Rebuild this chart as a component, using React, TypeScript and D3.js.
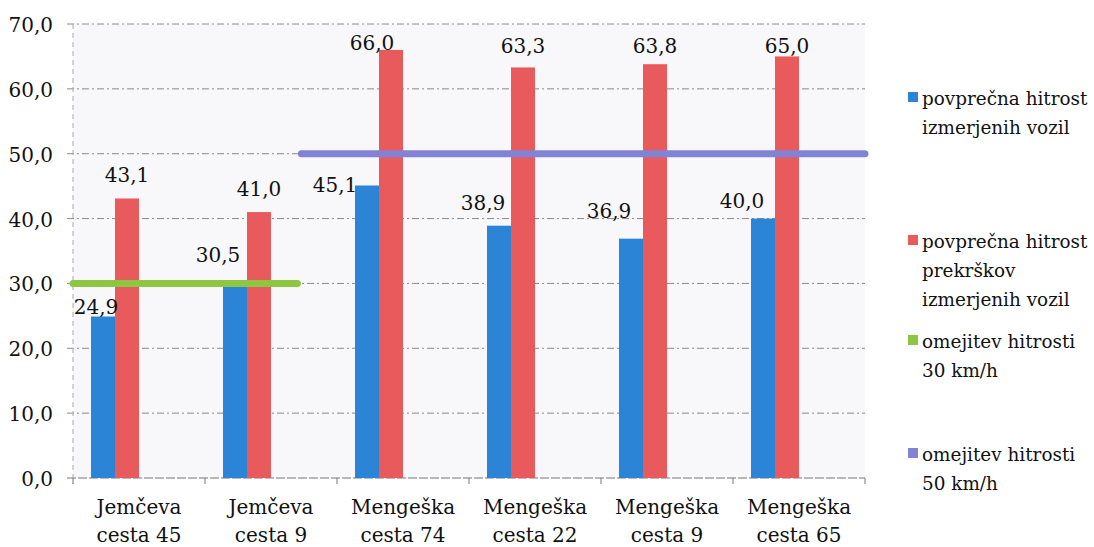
import React, { useRef, useEffect } from 'react';
import * as d3 from 'd3';

// data
const categories = [
  ['Jemčeva', 'cesta 45'],
  ['Jemčeva', 'cesta 9'],
  ['Mengeška', 'cesta 74'],
  ['Mengeška', 'cesta 22'],
  ['Mengeška', 'cesta 9'],
  ['Mengeška', 'cesta 65'],
];
const avgSpeed = [24.9, 30.5, 45.1, 38.9, 36.9, 40.0];
const avgOffenceSpeed = [43.1, 41.0, 66.0, 63.3, 63.8, 65.0];
// speed limits: value, span in category units [from, to]
const limit30 = { value: 30, from: 0, to: 1.7 };
const limit50 = { value: 50, from: 1.73, to: 6 };
const yTicks = [0, 10, 20, 30, 40, 50, 60, 70];
const legendItems = [
  { lines: ['povprečna hitrost', 'izmerjenih vozil'], color: '#2b84d6' },
  { lines: ['povprečna hitrost', 'prekrškov', 'izmerjenih vozil'], color: '#e85a5c' },
  { lines: ['omejitev hitrosti', '30 km/h'], color: '#8dc641' },
  { lines: ['omejitev hitrosti', '50 km/h'], color: '#8383d6' },
];

// hand-placed label offsets (dx, dy) as in the original
const blueNudge = [[-7, 13], [-17, -2], [-32, 23], [-16, 0], [-22, -5], [-21, 5]];
const redNudge = [[0, 0], [0, 0], [-19, 16], [0, 2], [0, 5], [0, 13]];

const W = 1094;
const H = 547;
const FONT = 'DejaVu Serif';

export default function App() {
  const svgRef = useRef<SVGSVGElement>(null);

  useEffect(() => {
    if (!svgRef.current) return;
    const svg = d3.select(svgRef.current);
    svg.selectAll('*').remove();

    const left = 73, right = 865, top = 24, bottom = 478;
    const keys = categories.map(c => c.join(' '));

    const x = d3.scaleBand().domain(keys).range([left, right]);
    const xs = d3.scaleBand().domain(['a', 'b', 'c', 'd']).range([0, x.bandwidth()]).paddingOuter(0.75);
    const xc = d3.scaleLinear().domain([0, categories.length]).range([left, right]);
    const y = d3.scaleLinear().domain([0, 70]).range([bottom, top]);

    svg.append('rect').attr('x', 0).attr('y', 0).attr('width', W).attr('height', H).attr('fill', '#ffffff');
    svg.append('rect')
      .attr('x', left).attr('y', top).attr('width', right - left).attr('height', bottom - top)
      .attr('fill', '#f8f7fa');

    // grid + y ticks
    svg.selectAll('.grid')
      .data(yTicks)
      .join('line')
      .attr('x1', left - 6).attr('x2', right)
      .attr('y1', d => y(d)).attr('y2', d => y(d))
      .attr('stroke', d => (d === 0 ? '#777' : '#8a8a8a'))
      .attr('stroke-width', 1)
      .attr('stroke-dasharray', d => (d === 0 ? '9,2' : '7,3,2,3'));

    svg.append('line')
      .attr('x1', left).attr('x2', left).attr('y1', top).attr('y2', bottom + 6)
      .attr('stroke', '#aaa').attr('stroke-dasharray', '5,4');

    svg.selectAll('.ytick')
      .data(yTicks)
      .join('text')
      .attr('x', 53).attr('y', d => y(d) + 8)
      .attr('text-anchor', 'end')
      .style('font-family', FONT).attr('font-size', 20).attr('fill', '#111')
      .text(d => d3.format('.1f')(d).replace('.', ','));

    // x ticks
    svg.selectAll('.xtick')
      .data(d3.range(categories.length + 1))
      .join('line')
      .attr('x1', d => xc(d)).attr('x2', d => xc(d))
      .attr('y1', bottom).attr('y2', bottom + 6)
      .attr('stroke', '#777');

    // bars
    const series = [
      { vals: avgSpeed, slot: 'a', color: legendItems[0].color, nudge: blueNudge },
      { vals: avgOffenceSpeed, slot: 'b', color: legendItems[1].color, nudge: redNudge },
    ];
    series.forEach(s => {
      svg.append('g').selectAll('rect')
        .data(s.vals)
        .join('rect')
        .attr('x', (d, i) => x(keys[i])! + xs(s.slot)!)
        .attr('y', d => y(d))
        .attr('width', xs.bandwidth())
        .attr('height', d => bottom - y(d))
        .attr('fill', s.color);
    });

    // limit lines
    [
      { l: limit30, color: legendItems[2].color, w: 7 },
      { l: limit50, color: legendItems[3].color, w: 7 },
    ].forEach(({ l, color, w }) => {
      svg.append('line')
        .attr('x1', xc(l.from)).attr('x2', xc(l.to))
        .attr('y1', y(l.value)).attr('y2', y(l.value))
        .attr('stroke', color).attr('stroke-width', w)
        .attr('stroke-linecap', 'round');
    });

    // value labels
    series.forEach(s => {
      svg.append('g').selectAll('text')
        .data(s.vals)
        .join('text')
        .attr('x', (d, i) => x(keys[i])! + xs(s.slot)! + xs.bandwidth() / 2 + s.nudge[i][0])
        .attr('y', (d, i) => y(d) - 16 + s.nudge[i][1])
        .attr('text-anchor', 'middle')
        .style('font-family', FONT).attr('font-size', 20).attr('fill', '#111')
        .text(d => d3.format('.1f')(d).replace('.', ','));
    });

    // category labels
    const cat = svg.append('g').selectAll('text')
      .data(categories)
      .join('text')
      .attr('text-anchor', 'middle')
      .style('font-family', FONT).attr('font-size', 20).attr('fill', '#111');
    cat.each(function (d, i) {
      const t = d3.select(this);
      d.forEach((line, j) => {
        t.append('tspan')
          .attr('x', x(keys[i])! + x.bandwidth() / 2)
          .attr('y', 514 + j * 28)
          .text(line);
      });
    });

    // legend — shrink font so the widest line fits in the page
    const legendY = [105, 248, 348, 461];
    const legendX = 922;
    const maxW = 1088 - legendX;
    const texts: d3.Selection<SVGTextElement, unknown, null, undefined>[] = [];
    legendItems.forEach((item, i) => {
      const g = svg.append('g');
      g.append('rect')
        .attr('x', 908).attr('y', legendY[i] - 13)
        .attr('width', 10).attr('height', 10)
        .attr('fill', item.color);
      item.lines.forEach((line, j) => {
        texts.push(g.append('text')
          .attr('x', legendX).attr('y', legendY[i] + j * 29)
          .style('font-family', FONT).attr('font-size', 20).attr('fill', '#111')
          .text(line));
      });
    });
    const widest = d3.max(texts, t => (t.node() as SVGTextElement).getComputedTextLength())!;
    if (widest > maxW) {
      const fs = Math.floor((20 * maxW / widest) * 10) / 10;
      texts.forEach(t => t.attr('font-size', fs));
    }
  }, []);

  return (
    <svg
      ref={svgRef}
      width={W}
      height={H}
      style={{ position: 'absolute', left: 0, top: 0, display: 'block' }}
    />
  );
}
